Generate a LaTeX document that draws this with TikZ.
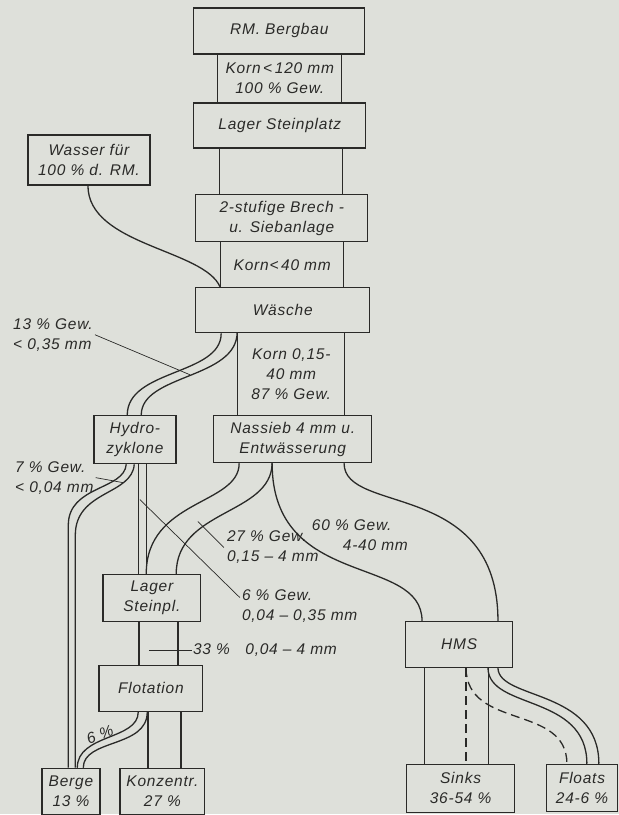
\documentclass[tikz,border=0pt]{standalone}
\usepackage{fontspec}
\setmainfont{Liberation Sans}[LetterSpace=5]

\definecolor{paper}{RGB}{222,224,218}
\definecolor{ink}{RGB}{42,42,40}
\newcommand{\flowfont}{\fontsize{15.5}{20}\selectfont\itshape}

\begin{document}
\begin{tikzpicture}[x=1pt,y=-1pt,
    box/.style={draw=ink, fill=paper, line width=1.3pt, inner sep=0pt, align=center, text=ink, font=\flowfont},
    flow/.style={draw=ink, line width=1.3pt},
    lead/.style={draw=ink, line width=0.7pt},
    lbl/.style={inner sep=0pt, align=left, text=ink, font=\flowfont}]
    \fill[paper] (0,0) rectangle (619,815);

    % bands between the boxes
    \node[box, minimum width=124, minimum height=49] (korn120) at (280,78.5) {Korn\,<\,120 mm\\100 \% Gew.};
    \node[box, minimum width=123, minimum height=47] (band2) at (281.5,171.5) {};
    \node[box, minimum width=123, minimum height=46] (korn40) at (282.5,265) {Korn<\,40 mm};
    \node[box, minimum width=107, minimum height=83] (korn015) at (291.5,374.5) {Korn 0,15-\\40 mm\\87 \% Gew.};
    \node[box, minimum width=39, minimum height=44] (band33) at (158.5,644) {};
    \node[box, minimum width=33, minimum height=57] (bandkonz) at (164.5,740.5) {};
    \node[box, minimum width=64, minimum height=97] (bandsinks) at (457,716.5) {};

    % boxes
    \node[box, minimum width=171, minimum height=46] (bergbau) at (279.5,31) {RM. Bergbau};
    \node[box, minimum width=172, minimum height=45] (lager) at (280,125.5) {Lager Steinplatz};
    \node[box, minimum width=172, minimum height=47] (brech) at (282,218.5) {2-stufige Brech -\\u. Siebanlage};
    \node[box, minimum width=174, minimum height=45] (waesche) at (283,310.5) {Wäsche};
    \node[box, minimum width=122, minimum height=50] (wasser) at (89,160) {Wasser für\\100 \% d. RM.};
    \node[box, minimum width=82, minimum height=48] (hydro) at (135,440) {Hydro-\\zyklone};
    \node[box, minimum width=158, minimum height=47] (nassieb) at (293,439.5) {Nassieb 4 mm u.\\Entwässerung};
    \node[box, minimum width=98, minimum height=47] (lagerst) at (152,598.5) {Lager\\Steinpl.};
    \node[box, minimum width=104, minimum height=46] (flot) at (151,689) {Flotation};
    \node[box, minimum width=107, minimum height=46] (hms) at (459.5,645) {HMS};
    \node[box, minimum width=58, minimum height=46] (berge) at (71,792) {Berge\\13 \%};
    \node[box, minimum width=85, minimum height=46] (konz) at (162.5,792) {Konzentr.\\27 \%};
    \node[box, minimum width=108, minimum height=48] (sinks) at (461,789) {Sinks\\36-54 \%};
    \node[box, minimum width=71, minimum height=47] (floats) at (582.5,788.5) {Floats\\24-6 \%};

    % water feed
    \draw[flow] ([xshift=-1]wasser.south) .. controls +(0,60) and +(-16,-38) .. ([xshift=25]waesche.north west);

    % fines to the hydrocyclones
    \draw[flow] ([xshift=26]waesche.south west) .. controls +(0,42) and +(0,-46) .. ([xshift=34]hydro.north west);
    \draw[flow] (korn015.north west) .. controls +(0,47) and +(0,-41) .. ([xshift=48]hydro.north west);

    % hydrocyclones
    \draw[flow] ([xshift=33]hydro.south west) .. controls +(-2,26) and +(0,-40) .. ++(-58,61) -- ([xshift=27]berge.north west);
    \draw[flow] ([xshift=41]hydro.south west) .. controls +(-2,31) and +(0,-45) .. ++(-59,71) -- ([xshift=34]berge.north west);
    \draw[flow] ([xshift=45]hydro.south west) -- ([xshift=36]lagerst.north west);
    \draw[flow] ([xshift=53]hydro.south west) -- ([xshift=44]lagerst.north west);

    % wet screen
    \draw[flow] ([xshift=26]nassieb.south west) .. controls +(0,42) and +(0,-75) .. ([xshift=44]lagerst.north west);
    \draw[flow] ([xshift=59]nassieb.south west) .. controls +(-1,52) and +(0,-65) .. ([xshift=74]lagerst.north west);
    \draw[flow] ([xshift=59]nassieb.south west) .. controls +(0,127) and +(0,-67) .. ([xshift=17]hms.north west);
    \draw[flow] ([xshift=131]nassieb.south west) .. controls +(0,52) and +(0,-142) .. ([xshift=93]hms.north west);

    % flotation tailings
    \draw[flow] ([xshift=40]flot.south west) .. controls +(0,28) and +(0,-34) .. ([xshift=36]berge.north west);
    \draw[flow] ([xshift=49]flot.south west) .. controls +(0,36) and +(0,-29) .. ([xshift=42]berge.north west);

    % heavy media
    \draw[flow, dashed, dash pattern=on 9pt off 5pt] ([xshift=61]hms.south west) -- ([xshift=60]sinks.north west);
    \draw[flow, dashed, dash pattern=on 9pt off 5pt] ([xshift=61]hms.south west) .. controls +(1,62) and +(0,-60) .. ([xshift=21]floats.north west);
    \draw[flow] ([xshift=83]hms.south west) .. controls +(1,42) and +(0,-70) .. ([xshift=41]floats.north west);
    \draw[flow] ([xshift=93]hms.south west) .. controls +(1,32) and +(0,-75) .. ([xshift=53]floats.north west);

    % labels
    \node[lbl, anchor=west] (lbl13) at (13,335) {13 \% Gew.\\< 0,35 mm};
    \node[lbl, anchor=west] (lbl7) at (15,478) {7 \% Gew.\\< 0,04 mm};
    \node[lbl, anchor=west] (lbl27) at (227,548) {27 \% Gew.\\0,15 -- 4 mm};
    \node[lbl, anchor=north west] (lbl6) at (242,590) {6 \% Gew.\\0,04 -- 0,35 mm};
    \node[lbl, anchor=west] (lbl60) at (312,536) {60 \% Gew.\\\hspace*{2em}4-40 mm};
    \node[lbl, anchor=west] (lbl33) at (193,651) {33 \%\quad 0,04 -- 4 mm};
    \node[lbl, rotate=20] (lbl6f) at (100,735) {6 \%};

    \coordinate (p13) at (190,375);
    \coordinate (p7) at (123,483);
    \coordinate (p27) at (198,522);
    \coordinate (p6) at (140,500);
    \coordinate (p33) at (149,651);
    \draw[lead] ([xshift=2]lbl13.east) -- (p13);
    \draw[lead] ([xshift=2]lbl7.east) -- (p7);
    \draw[lead] (p27) -- ([xshift=-3]lbl27.west);
    \draw[lead] (p6) -- ([xshift=-2,yshift=-8]lbl6.north west);
    \draw[lead] (p33) -- ([xshift=-1]lbl33.west);
\end{tikzpicture}
\end{document}
